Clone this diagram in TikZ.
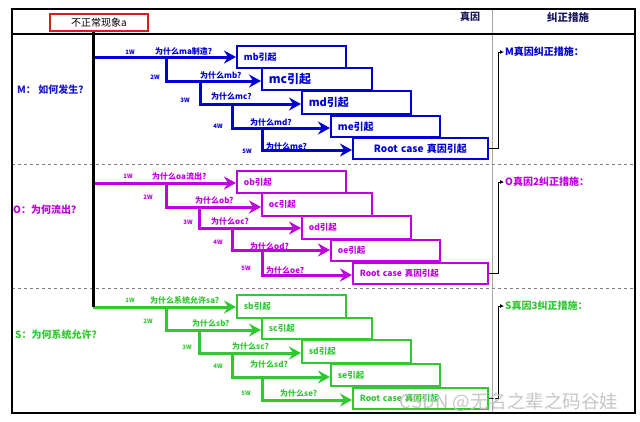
\documentclass[tikz,border=0pt]{standalone}
\usepackage{fontspec}
\setmainfont{Noto Sans CJK SC}
\usetikzlibrary{arrows.meta}
\definecolor{cM}{RGB}{0,0,210}
\definecolor{cMt}{RGB}{30,30,190}
\definecolor{cO}{RGB}{190,0,225}
\definecolor{cS}{RGB}{50,200,50}
\definecolor{cRed}{RGB}{210,30,30}
\definecolor{cHead}{RGB}{25,25,90}
\newcommand{\fs}[1]{\fontsize{#1}{#1}\selectfont}
\begin{document}
\begin{tikzpicture}[x=1pt,y=-1pt,
  arr/.style={line width=3pt,-{Stealth[length=12pt,width=13pt,inset=4pt]}},
  box/.style={draw,line width=1.8pt,fill=white,anchor=north west,inner xsep=7pt,inner ysep=0pt,align=left,font=\bfseries},
  qlab/.style={anchor=base west,inner sep=0pt,font=\bfseries\fs{8}},
  wlab/.style={inner sep=0pt,font=\bfseries\fs{6}},
  side/.style={anchor=west,inner sep=1pt,font=\bfseries\fs{10}},
  conn/.style={line width=0.9pt,black,-{Latex[length=4pt,width=4pt]}},
  sep/.style={gray,dashed,line width=0.8pt}
]
\useasboundingbox (0,0) rectangle (640,421);
\fill[white] (0,0) rectangle (640,421);
% frame
\draw[gray!70,line width=1pt] (492,9) -- (492,413);
\draw[sep] (12,164) -- (635,164);
\draw[sep] (12,288) -- (635,288);
\draw[line width=2pt] (12,9) rectangle (635,413);
\draw[line width=2pt] (12,34) -- (635,34);
% header
\node[draw=cRed,line width=2pt,minimum width=98pt,minimum height=17pt,inner sep=0pt,font=\fs{10}] (prob) at (99,22.5) {不正常现象a};
\node[font=\bfseries\fs{10},text=cHead] (hz) at (470,17) {真因};
\node[font=\bfseries\fs{10.5},text=cHead] (hj) at (568,17) {纠正措施};
% side labels
\node[anchor=west,inner sep=0pt,font=\bfseries\fs{10},text=cMt] (lm) at (17,90) {M： 如何发生？};
\node[anchor=west,inner sep=0pt,font=\bfseries\fs{10},text=cO] (lo) at (13,210) {O：为何流出？};
\node[anchor=west,inner sep=0pt,font=\bfseries\fs{10},text=cS] (ls) at (15,335) {S：为何系统允许？};

% ===== M =====
\node[box,draw=cM,text=cM,minimum height=22pt,text width=95pt,font=\bfseries\fs{9}] (mb) at (236,45) {mb引起};
\node[box,draw=cM,text=cM,minimum height=22pt,text width=96pt,font=\bfseries\fs{12}] (mc) at (261,67) {mc引起};
\node[box,draw=cM,text=cM,minimum height=23pt,text width=95pt,font=\bfseries\fs{11}] (md) at (301,90) {md引起};
\node[box,draw=cM,text=cM,minimum height=21pt,text width=95pt,font=\bfseries\fs{10}] (me) at (330,115) {me引起};
\node[box,draw=cM,text=cM,minimum height=21pt,text width=121pt,align=center,font=\bfseries\fs{10}] (mr) at (352,137) {Root case 真因引起};
\coordinate (m0) at (93,57);
\coordinate (m1) at (166,57);  \coordinate (m1b) at (166,81);
\coordinate (m2) at (200,81);  \coordinate (m2b) at (200,104);
\coordinate (m3) at (232,104); \coordinate (m3b) at (232,128);
\coordinate (m4) at (262,128); \coordinate (m4b) at (262,150);
\draw[arr,cM] (m0) -- (mb.west |- m0);
\draw[arr,cM] (m1) -- (m1b) -- (mc.west |- m1b);
\draw[arr,cM] (m2) -- (m2b) -- (md.west |- m2b);
\draw[arr,cM] (m3) -- (m3b) -- (me.west |- m3b);
\draw[arr,cM] (m4) -- (m4b) -- (mr.west |- m4b);
\node[qlab,text=cM] (qm1) at (155,54) {为什么ma制造?};
\node[qlab,text=cM] (qm2) at (200,78) {为什么mb?};
\node[qlab,text=cM] (qm3) at (211,99) {为什么mc?};
\node[qlab,text=cM] (qm4) at (250,125) {为什么md?};
\node[qlab,text=cM] (qm5) at (266,149) {为什么me?};
\node[wlab,text=cM] (wm1) at (130,52) {1W};
\node[wlab,text=cM] (wm2) at (155,77) {2W};
\node[wlab,text=cM] (wm3) at (185,100) {3W};
\node[wlab,text=cM] (wm4) at (218,126) {4W};
\node[wlab,text=cM] (wm5) at (247,151) {5W};
\node[side,text=cM] (fm) at (504,52) {M真因纠正措施：};
\draw[conn] (mr.east) -- ++(10,0) |- (fm.west);

% ===== O =====
\node[box,draw=cO,text=cO,minimum height=22pt,text width=95pt,font=\bfseries\fs{8.5}] (ob) at (236,170) {ob引起};
\node[box,draw=cO,text=cO,minimum height=23pt,text width=96pt,font=\bfseries\fs{8.5}] (oc) at (261,192) {oc引起};
\node[box,draw=cO,text=cO,minimum height=23pt,text width=95pt,font=\bfseries\fs{8.5}] (od) at (301,215) {od引起};
\node[box,draw=cO,text=cO,minimum height=21pt,text width=95pt,font=\bfseries\fs{8.5}] (oe) at (330,239) {oe引起};
\node[box,draw=cO,text=cO,minimum height=21pt,text width=121pt,font=\bfseries\fs{8.5}] (or) at (352,262) {Root case 真因引起};
\coordinate (o0) at (93,183);
\coordinate (o1) at (166,183); \coordinate (o1b) at (166,207);
\coordinate (o2) at (199,207); \coordinate (o2b) at (199,228);
\coordinate (o3) at (232,228); \coordinate (o3b) at (232,250);
\coordinate (o4) at (262,250); \coordinate (o4b) at (262,275);
\draw[arr,cO] (o0) -- (ob.west |- o0);
\draw[arr,cO] (o1) -- (o1b) -- (oc.west |- o1b);
\draw[arr,cO] (o2) -- (o2b) -- (od.west |- o2b);
\draw[arr,cO] (o3) -- (o3b) -- (oe.west |- o3b);
\draw[arr,cO] (o4) -- (o4b) -- (or.west |- o4b);
\node[qlab,text=cO] (qo1) at (152,179) {为什么oa流出?};
\node[qlab,text=cO] (qo2) at (195,203) {为什么ob?};
\node[qlab,text=cO] (qo3) at (211,224) {为什么oc?};
\node[qlab,text=cO] (qo4) at (250,249) {为什么od?};
\node[qlab,text=cO] (qo5) at (266,273) {为什么oe?};
\node[wlab,text=cO] (wo1) at (128,176) {1W};
\node[wlab,text=cO] (wo2) at (148,197) {2W};
\node[wlab,text=cO] (wo3) at (188,222) {3W};
\node[wlab,text=cO] (wo4) at (218,242) {4W};
\node[wlab,text=cO] (wo5) at (246,268) {5W};
\node[side,text=cO] (fo) at (504,182) {O真因2纠正措施：};
\draw[conn] (or.east) -- ++(10,0) |- (fo.west);

% ===== S =====
\node[box,draw=cS,text=cS,minimum height=23pt,text width=95pt,font=\bfseries\fs{8.5}] (sb) at (236,294) {sb引起};
\node[box,draw=cS,text=cS,minimum height=21pt,text width=96pt,font=\bfseries\fs{8.5}] (sc) at (261,317) {sc引起};
\node[box,draw=cS,text=cS,minimum height=23pt,text width=95pt,font=\bfseries\fs{8.5}] (sd) at (301,339) {sd引起};
\node[box,draw=cS,text=cS,minimum height=22pt,text width=95pt,font=\bfseries\fs{8.5}] (se) at (330,363) {se引起};
\node[box,draw=cS,text=cS,minimum height=21pt,text width=121pt,font=\bfseries\fs{8.5}] (sr) at (352,387) {Root case 真因引起};
\coordinate (s0) at (93,307);
\coordinate (s1) at (166,307); \coordinate (s1b) at (166,330);
\coordinate (s2) at (199,330); \coordinate (s2b) at (199,353);
\coordinate (s3) at (232,353); \coordinate (s3b) at (232,377);
\coordinate (s4) at (262,377); \coordinate (s4b) at (262,400);
\draw[arr,cS] (s0) -- (sb.west |- s0);
\draw[arr,cS] (s1) -- (s1b) -- (sc.west |- s1b);
\draw[arr,cS] (s2) -- (s2b) -- (sd.west |- s2b);
\draw[arr,cS] (s3) -- (s3b) -- (se.west |- s3b);
\draw[arr,cS] (s4) -- (s4b) -- (sr.west |- s4b);
\node[qlab,text=cS] (qs1) at (150,303) {为什么系统允许sa?};
\node[qlab,text=cS] (qs2) at (192,326) {为什么sb?};
\node[qlab,text=cS] (qs3) at (232,349) {为什么sc?};
\node[qlab,text=cS] (qs4) at (250,367) {为什么sd?};
\node[qlab,text=cS] (qs5) at (280,396) {为什么se?};
\node[wlab,text=cS] (ws1) at (130,300) {1W};
\node[wlab,text=cS] (ws2) at (148,321) {2W};
\node[wlab,text=cS] (ws3) at (187,347) {3W};
\node[wlab,text=cS] (ws4) at (218,366) {4W};
\node[wlab,text=cS] (ws5) at (246,393) {5W};
\node[side,text=cS] (fs) at (504,306) {S真因3纠正措施：};
\draw[conn] (sr.east) -- ++(10,0) |- (fs.west);

% main black spine
\draw[line width=3pt] (prob.south -| m0) -- (s0);

% watermark
\node[inner sep=0pt,font=\fs{18.5},text=gray!45] (wm) at (509,402) {CSDN @无名之辈之码谷娃};
\end{tikzpicture}
\end{document}
